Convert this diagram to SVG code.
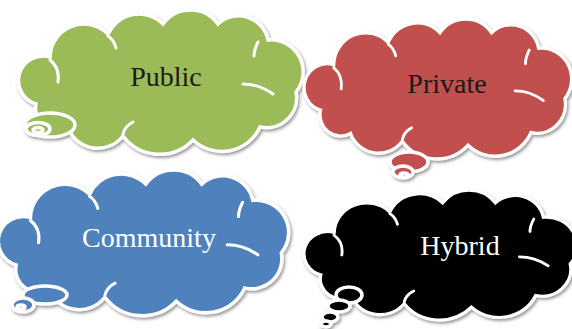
<svg xmlns="http://www.w3.org/2000/svg" width="572" height="329" viewBox="0 0 572 329">
<defs>
<filter id="sh" x="-10%" y="-10%" width="125%" height="130%">
<feDropShadow dx="1.5" dy="2" stdDeviation="1.5" flood-color="#555" flood-opacity="0.6"/>
</filter>
<path id="body" d="M8 92 A22 22 0 0 1 22 45 A34 34 0 0 1 80 22 A34 34 0 0 1 135 12 A34 34 0 0 1 190 12 A30 30 0 0 1 240 28 A32 32 0 0 1 268 80 A30 30 0 0 1 232 115 A42 42 0 0 1 165 128 A46 46 0 0 1 95 124 A32 32 0 0 1 40 116 A22 22 0 0 1 8 92 Z"/>
<g id="seams" fill="none" stroke="#fff" stroke-width="3" stroke-linecap="round">
<path d="M22 48 q10 8 8 22"/>
<path d="M80 24 q6 4 8 12"/>
<path d="M215 72 q16 0 30 10"/>
<path d="M230 30 q-4 8 -4 14"/>
<path d="M95 122 q2 -8 10 -12"/>
</g>
</defs>
<style>
.cl{stroke:#fff;stroke-width:3.5;filter:url(#sh)}
.bub{stroke:#fff;stroke-width:2.5}
.lbl{font-family:"Liberation Serif","Times New Roman",serif;font-size:28px;text-anchor:middle}
</style>
<g id="public">
<g class="cl" fill="#9bbb59">
<use href="#body" transform="translate(28,12)"/>
<ellipse cx="50" cy="125" rx="25" ry="12"/>
<ellipse cx="38" cy="129" rx="12" ry="6.5"/>
<ellipse cx="38" cy="130" rx="5" ry="2.5"/>
</g>
<use href="#seams" transform="translate(28,12)"/>
<text class="lbl" x="166" y="86" fill="#1a1a1a">Public</text>
</g>
<g id="private">
<g class="cl" fill="#c0504d">
<use href="#body" transform="translate(313,21) scale(0.94,0.97)"/>
<ellipse cx="409" cy="162" rx="19" ry="10"/>
<ellipse cx="403" cy="172" rx="10" ry="6"/>
<ellipse cx="404" cy="175" rx="4" ry="2"/>
</g>
<use href="#seams" transform="translate(313,21) scale(0.94,0.97)"/>
<text class="lbl" x="447" y="93" fill="#1a1a1a">Private</text>
</g>
<g id="community">
<g class="cl" fill="#4f81bd">
<use href="#body" transform="translate(8,172) scale(1.02,1.01)"/>
<ellipse cx="45" cy="295" rx="22" ry="9"/>
<ellipse cx="23" cy="305" rx="11" ry="7"/>
<ellipse cx="21" cy="307" rx="4" ry="2"/>
</g>
<use href="#seams" transform="translate(8,172) scale(1.02,1.01)"/>
<text class="lbl" x="149" y="247" fill="#ffffff">Community</text>
</g>
<g id="hybrid">
<g class="cl" fill="#000000">
<use href="#body" transform="translate(313,192) scale(0.96,0.9)"/>
<ellipse cx="349" cy="295" rx="13" ry="8"/>
<ellipse cx="339" cy="306" rx="11" ry="6"/>
<ellipse cx="330" cy="317" rx="8" ry="5"/>
<ellipse cx="326" cy="324" rx="5" ry="3"/>
</g>
<use href="#seams" transform="translate(313,192) scale(0.96,0.9)"/>
<text class="lbl" x="460" y="255" fill="#ffffff">Hybrid</text>
</g>
<g id="connectors"/>
</svg>
